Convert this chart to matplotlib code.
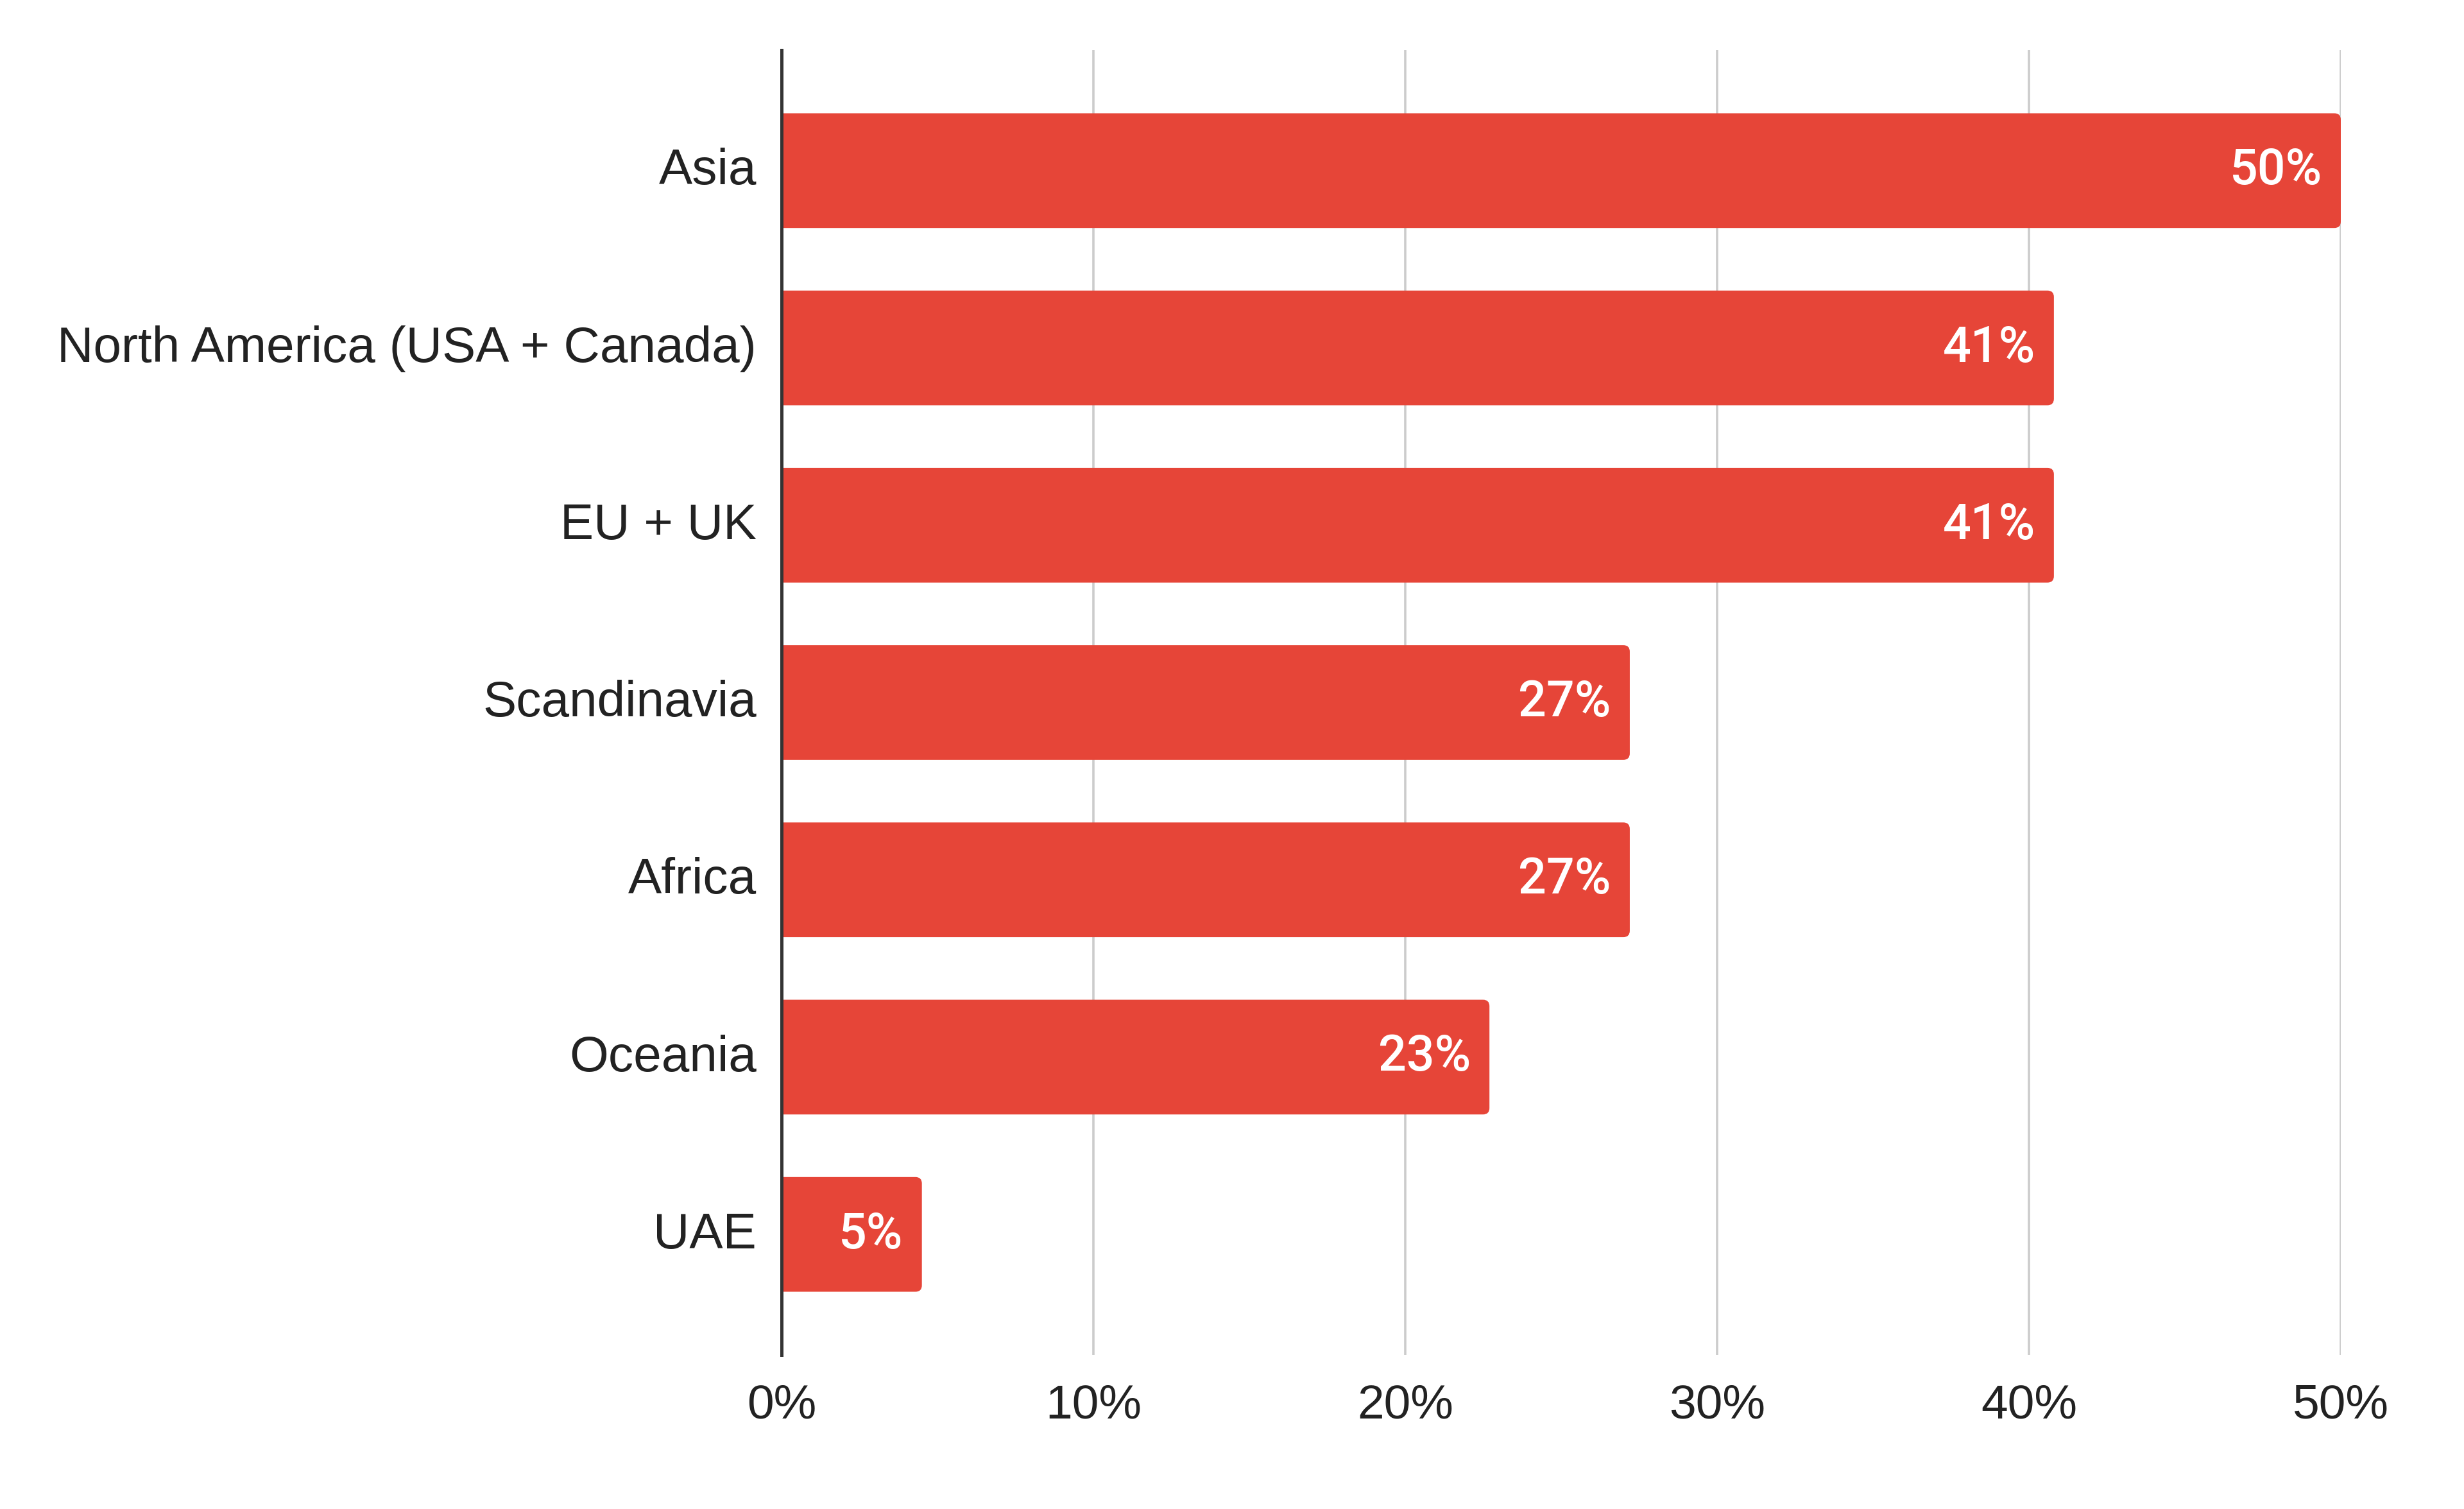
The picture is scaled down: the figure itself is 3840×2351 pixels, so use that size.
import matplotlib
matplotlib.use("Agg")
import matplotlib.pyplot as plt
import matplotlib.transforms as mtransforms
from matplotlib.patches import FancyBboxPatch

categories = ["Asia", "North America (USA + Canada)", "EU + UK", "Scandinavia",
              "Africa", "Oceania", "UAE"]
values = [50.0, 40.8, 40.8, 27.2, 27.2, 22.7, 4.5]
value_labels = ["50%", "41%", "41%", "27%", "27%", "23%", "5%"]
xticks = [0, 10, 20, 30, 40, 50]
xtick_labels = ["0%", "10%", "20%", "30%", "40%", "50%"]

plt.rcParams['font.family'] = ['Liberation Sans', 'DejaVu Sans']

DPI = 200
W, H = 3840, 2351
fig = plt.figure(figsize=(W / DPI, H / DPI), dpi=DPI)
ax_l, ax_r, ax_t, ax_b = 1218, 3648, 78, 2111
ax = fig.add_axes([ax_l / W, 1 - ax_b / H, (ax_r - ax_l) / W, (ax_b - ax_t) / H])

bar_color = "#E64538"
y = list(range(len(categories)))
xmax = 50
ylim = (len(categories) - 1 + 0.68, -0.68)
ax.set_xlim(0, xmax)
ax.set_ylim(*ylim)

bars = ax.barh(y, values, height=0.647, color=bar_color, zorder=2)

# rounded right corners (~10 px radius)
px_x = xmax / (ax_r - ax_l)
px_y = (ylim[0] - ylim[1]) / (ax_b - ax_t)
r = 10 * px_x
aspect = px_y / px_x
for b in bars:
    b.set_visible(False)
    x0 = -3 * r
    p = FancyBboxPatch((x0, b.get_y()), b.get_width() - x0, b.get_height(),
                       boxstyle=f"round,pad=0,rounding_size={r}",
                       mutation_aspect=aspect, facecolor=bar_color,
                       edgecolor="none", zorder=2, clip_on=True)
    ax.add_patch(p)

for b, lab in zip(bars, value_labels):
    w = b.get_width()
    yc = b.get_y() + b.get_height() / 2
    ax.annotate(lab, xy=(w, yc), xytext=(-10.5, 0), textcoords="offset points",
                ha="right", va="center", color="white", fontsize=27.8,
                fontweight="medium", family=["Roboto", "DejaVu Sans"], zorder=4)

ax.set_yticks(y)
ax.set_yticklabels(categories, fontsize=28.2, color="#222222")
ax.set_xticks(xticks)
ax.set_xticklabels(xtick_labels, fontsize=27, color="#222222")
ax.tick_params(axis="y", length=0, pad=14)
ax.tick_params(axis="x", length=0, pad=16)
shift = mtransforms.ScaledTranslation(0, 2.5 / 72, fig.dpi_scale_trans)
for t in ax.get_yticklabels():
    t.set_transform(t.get_transform() + shift)

ax.grid(axis="x", color="#CCCCCC", linewidth=1.3, zorder=1)
ax.set_axisbelow(True)
for s in ["top", "right", "bottom"]:
    ax.spines[s].set_visible(False)
ax.spines["left"].set_color("#333333")
ax.spines["left"].set_linewidth(1.8)
ax.spines["left"].set_zorder(5)

fig.savefig("out.png", dpi=DPI, facecolor="white")
